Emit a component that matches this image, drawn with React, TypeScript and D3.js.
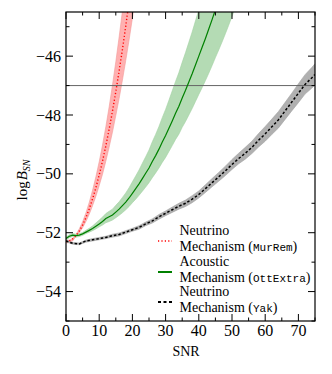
import React from 'react';
import * as d3 from 'd3';

// Neutrino mechanism (MurRem)
const redSnr = [0, 1, 2, 3, 4, 5, 6, 7, 8, 9, 10, 11, 12, 13, 14, 15, 16, 17, 18, 19, 20, 21];
const redMid = [-52.3, -52.28, -52.21, -52.1, -51.94, -51.74, -51.49, -51.19, -50.85, -50.47, -50.04, -49.57, -49.05, -48.48, -47.87, -47.21, -46.51, -45.77, -44.98, -44.14, -43.26, -42.33];
const redHi = [-52.25, -52.25, -52.19, -52.06, -51.87, -51.63, -51.33, -50.97, -50.56, -50.1, -49.59, -49.02, -48.4, -47.72, -46.98, -46.19, -45.35, -44.46, -43.52, -42.51, -41.45, -40.34];
const redLo = [-52.35, -52.33, -52.28, -52.13, -52.0, -51.83, -51.62, -51.37, -51.08, -50.76, -50.4, -50.01, -49.57, -49.09, -48.58, -48.02, -47.44, -46.81, -46.15, -45.45, -44.71, -43.93];

// Acoustic mechanism (OttExtra)
const greenSnr = d3.range(0, 52);
const greenMid = [-52.2, -52.12, -52.08, -52.1, -52.08, -52.04, -51.98, -51.92, -51.86, -51.78, -51.7, -51.62, -51.52, -51.46, -51.4, -51.3, -51.2, -51.08, -50.96, -50.82, -50.66, -50.5, -50.34, -50.16, -49.98, -49.8, -49.58, -49.38, -49.16, -48.92, -48.7, -48.45, -48.2, -47.94, -47.7, -47.42, -47.16, -46.88, -46.6, -46.3, -46.0, -45.7, -45.4, -45.08, -44.76, -44.42, -44.08, -43.74, -43.38, -43.0, -42.6, -42.2];
const greenHi = [-52.15, -52.07, -52.03, -52.05, -52.03, -51.99, -51.92, -51.85, -51.77, -51.67, -51.57, -51.47, -51.35, -51.27, -51.2, -51.07, -50.95, -50.8, -50.65, -50.47, -50.27, -50.07, -49.87, -49.64, -49.42, -49.19, -48.91, -48.66, -48.39, -48.09, -47.81, -47.5, -47.18, -46.86, -46.56, -46.21, -45.88, -45.53, -45.18, -44.8, -44.43, -44.05, -43.67, -43.27, -42.87, -42.44, -42.02, -41.6, -41.1, -40.6, -40.1, -39.6];
const greenLo = [-52.25, -52.17, -52.13, -52.15, -52.13, -52.09, -52.03, -51.98, -51.93, -51.87, -51.8, -51.74, -51.66, -51.62, -51.57, -51.49, -51.41, -51.32, -51.22, -51.11, -50.98, -50.86, -50.73, -50.59, -50.45, -50.3, -50.13, -49.97, -49.8, -49.61, -49.44, -49.24, -49.04, -48.83, -48.65, -48.42, -48.22, -48.0, -47.78, -47.54, -47.3, -47.07, -46.83, -46.58, -46.32, -46.05, -45.79, -45.52, -45.24, -44.95, -44.65, -44.35];

// Neutrino mechanism (Yak)
const blackSnr = [0, 2, 4, 6, 8, 10, 12, 14, 16, 18, 20, 22, 24, 26, 28, 30, 32, 34, 36, 38, 40, 42, 44, 46, 48, 50, 52, 54, 56, 58, 60, 62, 64, 66, 68, 70, 72, 74, 75];
const blackMid = [-52.28, -52.36, -52.38, -52.28, -52.24, -52.2, -52.16, -52.1, -52.06, -51.98, -51.9, -51.82, -51.7, -51.6, -51.46, -51.34, -51.22, -51.1, -51.0, -50.86, -50.7, -50.5, -50.3, -50.1, -49.9, -49.68, -49.48, -49.3, -49.1, -48.86, -48.64, -48.4, -48.16, -47.86, -47.56, -47.26, -46.96, -46.74, -46.62];
const blackHi = [-52.25, -52.33, -52.35, -52.25, -52.2, -52.16, -52.12, -52.05, -52.01, -51.93, -51.85, -51.76, -51.64, -51.53, -51.38, -51.26, -51.13, -51.0, -50.89, -50.74, -50.58, -50.37, -50.16, -49.95, -49.74, -49.51, -49.3, -49.1, -48.89, -48.63, -48.39, -48.14, -47.88, -47.57, -47.26, -46.94, -46.63, -46.39, -46.26];
const blackLo = [-52.31, -52.39, -52.41, -52.32, -52.28, -52.24, -52.2, -52.15, -52.11, -52.03, -51.95, -51.88, -51.76, -51.67, -51.54, -51.42, -51.31, -51.2, -51.11, -50.98, -50.82, -50.63, -50.44, -50.25, -50.06, -49.85, -49.66, -49.5, -49.31, -49.09, -48.89, -48.66, -48.44, -48.15, -47.86, -47.58, -47.29, -47.09, -46.98];

const xMajor = [0, 10, 20, 30, 40, 50, 60, 70];
const xMinor = [5, 15, 25, 35, 45, 55, 65, 75];
const yMajor = [-54, -52, -50, -48, -46];
const yMinor = [-55, -53, -51, -49, -47, -45];
const threshold = -47;

const serif = 'Liberation Serif, DejaVu Serif, serif';
const mono = 'Liberation Mono, DejaVu Sans Mono, monospace';

export default function App() {
  const left = 66, right = 315, top = 12, bottom = 321;
  const x = d3.scaleLinear().domain([0, 75]).range([left, right]);
  const y = d3.scaleLinear().domain([-55, -44.5]).range([bottom, top]);

  const band = (snr: number[], lo: number[], hi: number[]) =>
    d3.area<number>().x(i => x(snr[i])).y0(i => y(lo[i])).y1(i => y(hi[i]))(d3.range(snr.length)) || '';
  const line = (snr: number[], mid: number[]) =>
    d3.line<number>().x(i => x(snr[i])).y(i => y(mid[i]))(d3.range(snr.length)) || '';

  const legend = [
    { l1: 'Neutrino', name: 'MurRem', color: 'red', dash: '1.2,2.2', w: 1.6, y: 241 },
    { l1: 'Acoustic', name: 'OttExtra', color: '#008000', dash: '', w: 2, y: 272 },
    { l1: 'Neutrino', name: 'Yak', color: 'black', dash: '3,2.5', w: 2, y: 302 },
  ];

  return (
    <svg width={332} height={374} style={{ position: 'absolute', left: 0, top: 0, background: 'white', fontFamily: serif }}>
      <defs>
        <clipPath id="plot">
          <rect x={left} y={top} width={right - left} height={bottom - top} />
        </clipPath>
      </defs>
      <g clipPath="url(#plot)">
        <path d={band(redSnr, redLo, redHi)} fill="#ffb0b0" stroke="#f29a9a" strokeWidth={0.6} />
        <path d={band(greenSnr, greenLo, greenHi)} fill="#b4dbb4" stroke="#a3d1a3" strokeWidth={0.6} />
        <path d={band(blackSnr, blackLo, blackHi)} fill="#b0b0b0" stroke="#a4a4a4" strokeWidth={0.6} />
        <line x1={left} x2={right} y1={y(threshold)} y2={y(threshold)} stroke="#666" strokeWidth={1} />
        <path d={line(redSnr, redMid)} fill="none" stroke="red" strokeWidth={1.4} strokeDasharray="1.2,2.2" />
        <path d={line(greenSnr, greenMid)} fill="none" stroke="#008000" strokeWidth={1.2} />
        <path d={line(blackSnr, blackMid)} fill="none" stroke="black" strokeWidth={1.5} strokeDasharray="2.5,2" />
      </g>

      {xMajor.map(v => (
        <g key={'xM' + v}>
          <line x1={x(v)} x2={x(v)} y1={bottom} y2={bottom - 7} stroke="black" />
          <line x1={x(v)} x2={x(v)} y1={top} y2={top + 7} stroke="black" />
          <text x={x(v)} y={336} textAnchor="middle" fontSize={16}>{v}</text>
        </g>
      ))}
      {xMinor.map(v => (
        <g key={'xm' + v}>
          <line x1={x(v)} x2={x(v)} y1={bottom} y2={bottom - 3.5} stroke="black" />
          <line x1={x(v)} x2={x(v)} y1={top} y2={top + 3.5} stroke="black" />
        </g>
      ))}
      {yMajor.map(v => (
        <g key={'yM' + v}>
          <line x1={left} x2={left + 7} y1={y(v)} y2={y(v)} stroke="black" />
          <line x1={right} x2={right - 7} y1={y(v)} y2={y(v)} stroke="black" />
          <text x={61} y={y(v) + 5.5} textAnchor="end" fontSize={16}>{'\u2212' + Math.abs(v)}</text>
        </g>
      ))}
      {yMinor.map(v => (
        <g key={'ym' + v}>
          <line x1={left} x2={left + 3.5} y1={y(v)} y2={y(v)} stroke="black" />
          <line x1={right} x2={right - 3.5} y1={y(v)} y2={y(v)} stroke="black" />
        </g>
      ))}
      <rect x={left} y={top} width={right - left} height={bottom - top} fill="none" stroke="black" strokeWidth={1.2} />

      {legend.map(d => (
        <g key={d.name}>
          <line x1={158} x2={172} y1={d.y} y2={d.y} stroke={d.color} strokeWidth={d.w} strokeDasharray={d.dash || undefined} />
          <text x={179.5} y={d.y - 6} fontSize={14}>{d.l1}</text>
          <text x={179.5} y={d.y + 9.5} fontSize={14}>
            Mechanism (<tspan fontFamily={mono} fontSize={11}>{d.name}</tspan>)
          </text>
        </g>
      ))}

      <text x={186} y={356} textAnchor="middle" fontSize={14}>SNR</text>
      <text transform="translate(27,180) rotate(-90)" textAnchor="middle" fontSize={15}>
        log<tspan fontStyle="italic" dx={1}>B</tspan>
        <tspan fontStyle="italic" fontSize={10} dy={3}>SN</tspan>
      </text>
    </svg>
  );
}
